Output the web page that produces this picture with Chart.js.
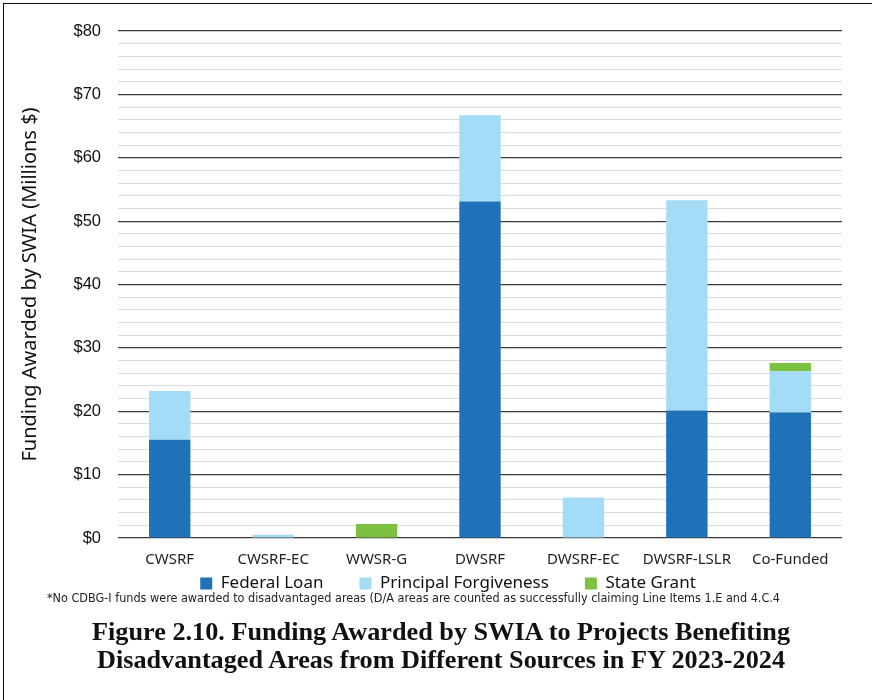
<!DOCTYPE html>
<html>
<head>
<meta charset="utf-8">
<script src="https://cdn.jsdelivr.net/npm/chart.js@4.4.1/dist/chart.umd.min.js"></script>
<style>
  html, body { margin: 0; padding: 0; background: #fff; overflow: hidden; }
  body { width: 872px; height: 700px; position: relative; }
  #frame {
    position: absolute; left: 3px; top: 3px; width: 900px; height: 720px;
    border-left: 1.5px solid #111; border-top: 1.5px solid #111;
  }
  #chart-box { position: absolute; left: 0; top: 0; width: 872px; height: 637px; }
  .fit { position: absolute; white-space: nowrap; transform-origin: left top; }
  #note {
    left: 47px; top: 590px;
    font-family: "DejaVu Sans Condensed", "Liberation Sans Narrow", sans-serif;
    font-size: 12.5px; color: #222;
  }
  .cap {
    font-family: "Liberation Serif", "DejaVu Serif", serif; font-weight: bold;
    font-size: 26px; color: #111;
  }
</style>
</head>
<body>
<div id="frame"></div>
<div id="chart-box"><canvas id="chart"></canvas></div>
<div id="note" class="fit" data-left="47" data-width="733">*No CDBG-I funds were awarded to disadvantaged areas (D/A areas are counted as successfully claiming Line Items 1.E and 4.C.4</div>
<div class="fit cap" style="top:617px" data-left="92" data-width="698">Figure 2.10. Funding Awarded by SWIA to Projects Benefiting</div>
<div class="fit cap" style="top:645px" data-left="97" data-width="688">Disadvantaged Areas from Different Sources in FY 2023-2024</div>

<script>
// Funding sources (x axis)
const categories = ['CWSRF', 'CWSRF-EC', 'WWSR-G', 'DWSRF', 'DWSRF-EC', 'DWSRF-LSLR', 'Co-Funded'];

// Values in millions of dollars
const federalLoan = [15.5, 0, 0, 53.1, 0, 20.1, 19.8];
const principalForgiveness = [7.7, 0.5, 0, 13.6, 6.4, 33.2, 6.5];
const stateGrant = [0, 0, 2.2, 0, 0, 0, 1.3];

const yMax = 80;
const yStep = 2;      // minor gridlines
const yMajor = 10;    // labelled gridlines

const uiFont = '"Noto Sans", "Open Sans", sans-serif';

// squeeze the footnote / caption lines to the width they have in the figure
document.querySelectorAll('.fit').forEach(el => {
    const w = el.getBoundingClientRect().width;
    el.style.left = el.dataset.left + 'px';
    el.style.transform = 'scaleX(' + (el.dataset.width / w) + ')';
});

// legend padding is big to spread the items apart; pull the row up closer to the x labels
// and centre it under the plot area rather than the whole canvas
const legendLift = {
    id: 'legendLift',
    afterUpdate(chart) {
        const lg = chart.legend;
        if (!lg) return;
        lg.top -= 35;
        lg.bottom -= 35;
        lg.left += 27;
        lg.right += 27;
    }
};

new Chart(document.getElementById('chart'), {
    type: 'bar',
    data: {
        labels: categories,
        datasets: [
            { label: 'Federal Loan', data: federalLoan, backgroundColor: '#1f71b8' },
            { label: 'Principal Forgiveness', data: principalForgiveness, backgroundColor: '#a4dcf8' },
            { label: 'State Grant', data: stateGrant, backgroundColor: '#7dc142' }
        ]
    },
    plugins: [legendLift],
    options: {
        responsive: true,
        maintainAspectRatio: false,
        animation: false,
        datasets: {
            bar: { barPercentage: 0.4, categoryPercentage: 1.0, borderWidth: 0 }
        },
        layout: { padding: { top: 31, right: 30, left: 0, bottom: 0 } },
        plugins: {
            legend: {
                position: 'bottom',
                labels: {
                    boxWidth: 12, boxHeight: 12, padding: 36,
                    color: '#111',
                    font: { family: uiFont, size: 17 }
                }
            },
            tooltip: { enabled: false }
        },
        scales: {
            x: {
                stacked: true,
                grid: { display: false },
                border: { display: false },
                ticks: {
                    color: '#222', padding: 5,
                    font: { family: uiFont, size: 15 }
                }
            },
            y: {
                stacked: true,
                min: 0, max: yMax,
                afterFit: scale => { scale.width = 118; },
                border: { display: false },
                grid: {
                    drawTicks: false,
                    color: ctx => (ctx.tick && ctx.tick.value % yMajor === 0) ? '#3a3a3a' : '#dcdcdc',
                    lineWidth: ctx => (ctx.tick && ctx.tick.value % yMajor === 0) ? 1.2 : 1
                },
                ticks: {
                    stepSize: yStep, autoSkip: false, padding: 17,
                    color: '#111',
                    font: { family: '"Liberation Sans", Arial, sans-serif', size: 16.5 },
                    callback: v => (v % yMajor === 0) ? '$' + v : ''
                },
                title: {
                    display: true,
                    text: 'Funding Awarded by SWIA (Millions $)',
                    color: '#111',
                    padding: { top: 18, bottom: 0 },
                    font: { family: uiFont, size: 20 }
                }
            }
        }
    }
});
</script>
</body>
</html>
